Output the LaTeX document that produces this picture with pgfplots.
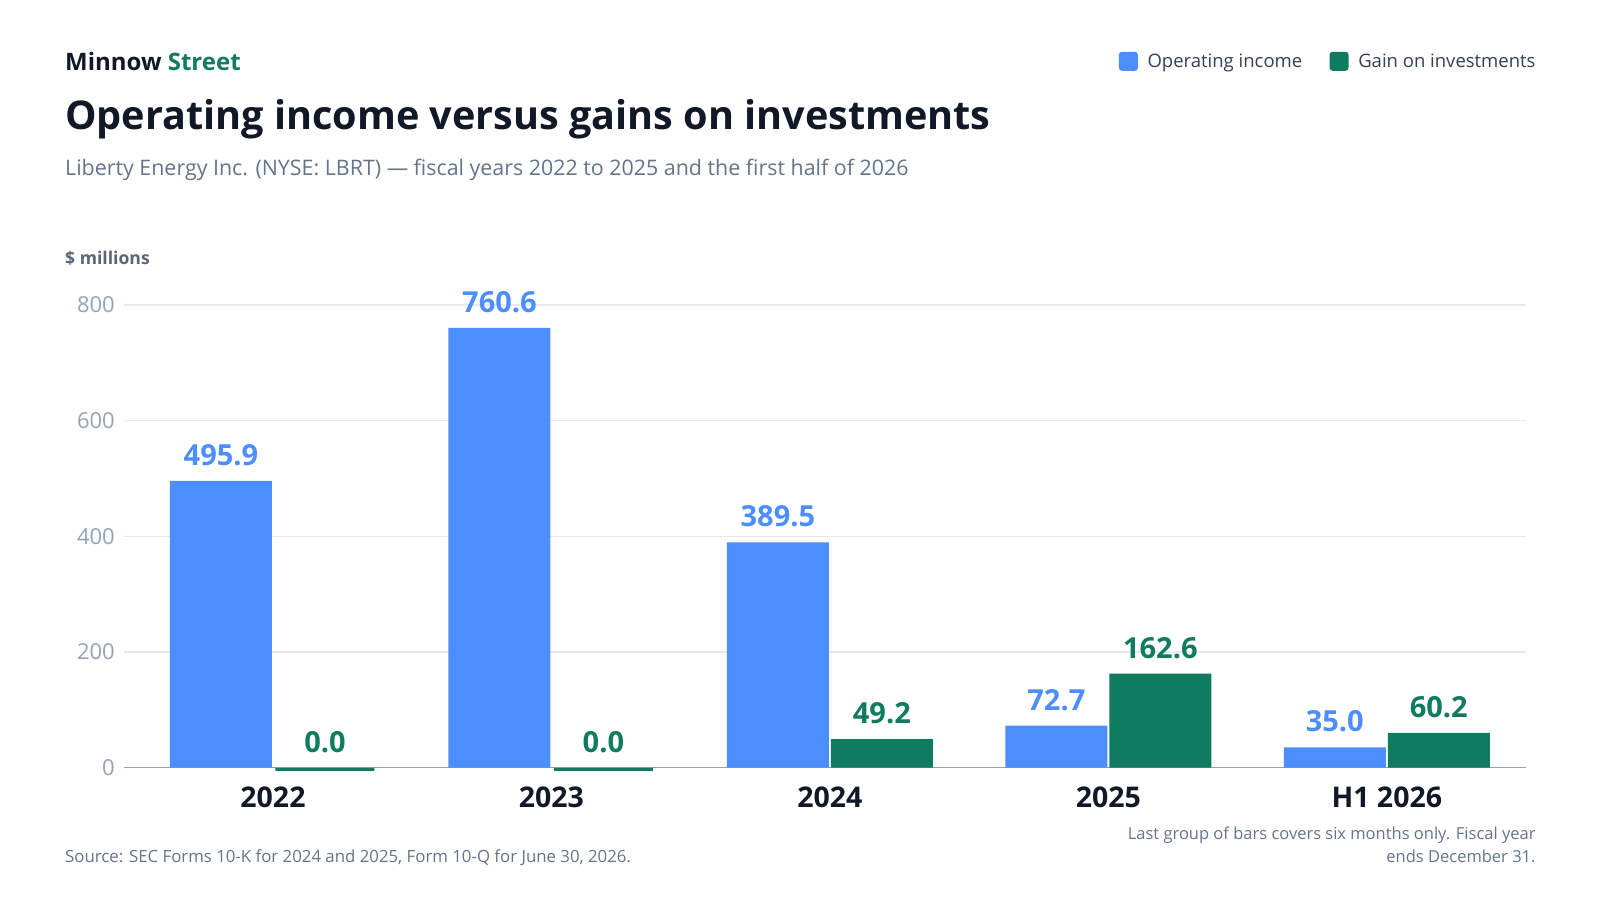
\documentclass[border=0pt]{standalone}
\usepackage{fontspec}
\setmainfont{Open Sans}
\usepackage{pgfplots}
\pgfplotsset{compat=1.18}
\definecolor{opblue}{HTML}{4D8EFF}
\definecolor{msgreen}{HTML}{0F7B5F}
\definecolor{darkc}{HTML}{111827}
\definecolor{subc}{HTML}{64748B}
\definecolor{tickc}{HTML}{94A3B8}
\definecolor{axisc}{HTML}{97A1B3}
\definecolor{gridc}{HTML}{E6EAF0}
\definecolor{legc}{HTML}{334155}
\definecolor{unitc}{HTML}{5B6578}
\newcommand{\fs}[1]{\fontsize{#1bp}{#1bp}\selectfont}
\begin{document}
\begin{tikzpicture}[x=1bp,y=1bp]
\fill[white] (0,0) rectangle (1600,900);
\path[use as bounding box] (0,0) rectangle (1600,900);
% header
\node[anchor=base west, inner sep=0pt, font=\fs{24}\bfseries] at (65,829.3) {\textcolor{darkc}{Minnow} \textcolor{msgreen}{Street}};
\node[anchor=base west, inner sep=0pt, font=\fs{39.6}\bfseries, text=darkc] at (65,770) {Operating income versus gains on investments};
\node[anchor=base west, inner sep=0pt, font=\fs{21.4}, text=subc] at (65,724) {Liberty Energy Inc. (NYSE: LBRT) — fiscal years 2022 to 2025 and the first half of 2026};
\node[anchor=base west, inner sep=0pt, font=\fs{17.6}\bfseries, text=unitc] at (65,635.7) {\$ millions};
% footer
\node[anchor=base west, inner sep=0pt, font=\fs{16.8}, text=subc] at (65,37.3) {Source: SEC Forms 10-K for 2024 and 2025, Form 10-Q for June 30, 2026.};
\node[anchor=base east, inner sep=0pt, font=\fs{16.5}, text=subc] at (1535.7,60.7) {Last group of bars covers six months only. Fiscal year};
\node[anchor=base east, inner sep=0pt, font=\fs{16.5}, text=subc] at (1535.7,37.3) {ends December 31.};
\begin{axis}[
  at={(124bp,132.3bp)}, anchor=south west,
  scale only axis, width=1402bp, height=462.7bp,
  xmin=-0.535, xmax=4.5, ymin=0, ymax=800,
  clip=false,
  ybar, bar width=102bp,
  xtick={0,1,2,3,4}, xticklabels={2022,2023,2024,2025,H1 2026},
  ytick={200,400,600,800},
  extra y ticks={0},
  extra y tick style={grid style={color=axisc, line width=1.6bp}},
  ymajorgrids, grid style={color=gridc, line width=1.3bp},
  axis line style={draw=none},
  tick style={draw=none},
  major tick length=0pt,
  /pgf/number format/assume math mode=true,
  yticklabel style={font=\fs{22}, text=tickc, anchor=east, inner sep=0pt, xshift=-9bp},
  xticklabel style={font=\fs{28.5}\bfseries, text=darkc, anchor=base, inner sep=0pt, yshift=-40bp},
  nodes near coords={\pgfmathprintnumber[fixed,fixed zerofill,precision=1,assume math mode=true]{\pgfplotspointmeta}},
  nodes near coords style={font=\fs{29}\bfseries, inner sep=0pt, anchor=south, yshift=15bp},
  legend columns=2,
  legend style={at={(1.00692,1.5267)}, anchor=east, draw=none, fill=none, inner sep=0pt,
    font=\fs{18.5}, text=legc, nodes={inner sep=0pt},
    /tikz/every odd column/.append style={column sep=9.7bp},
    /tikz/every even column/.append style={column sep=27.3bp}},
]
\addplot[fill=opblue, draw=none, bar shift=-52bp,
  every node near coord/.append style={text=opblue},
  legend image code/.code={\fill[opblue, rounded corners=3bp] (0bp,-9.5bp) rectangle (19bp,9.5bp);}]
  coordinates {(0,495.9) (1,760.6) (2,389.5) (3,72.7) (4,35.0)};
\addlegendentry{Operating income}
\addplot[fill=msgreen, draw=none, bar shift=52bp,
  every node near coord/.append style={text=msgreen},
  legend image code/.code={\fill[msgreen, rounded corners=3bp] (0bp,-9.5bp) rectangle (19bp,9.5bp);}]
  coordinates {(0,0.0) (1,0.0) (2,49.2) (3,162.6) (4,60.2)};
\addlegendentry{Gain on investments}
\addplot[forget plot, fill=none, draw=msgreen, line width=3.3bp, yshift=-1.65bp, bar shift=52bp, bar width=99bp, nodes near coords={}]
  coordinates {(0,0.0) (1,0.0)};
\end{axis}
\end{tikzpicture}
\end{document}
